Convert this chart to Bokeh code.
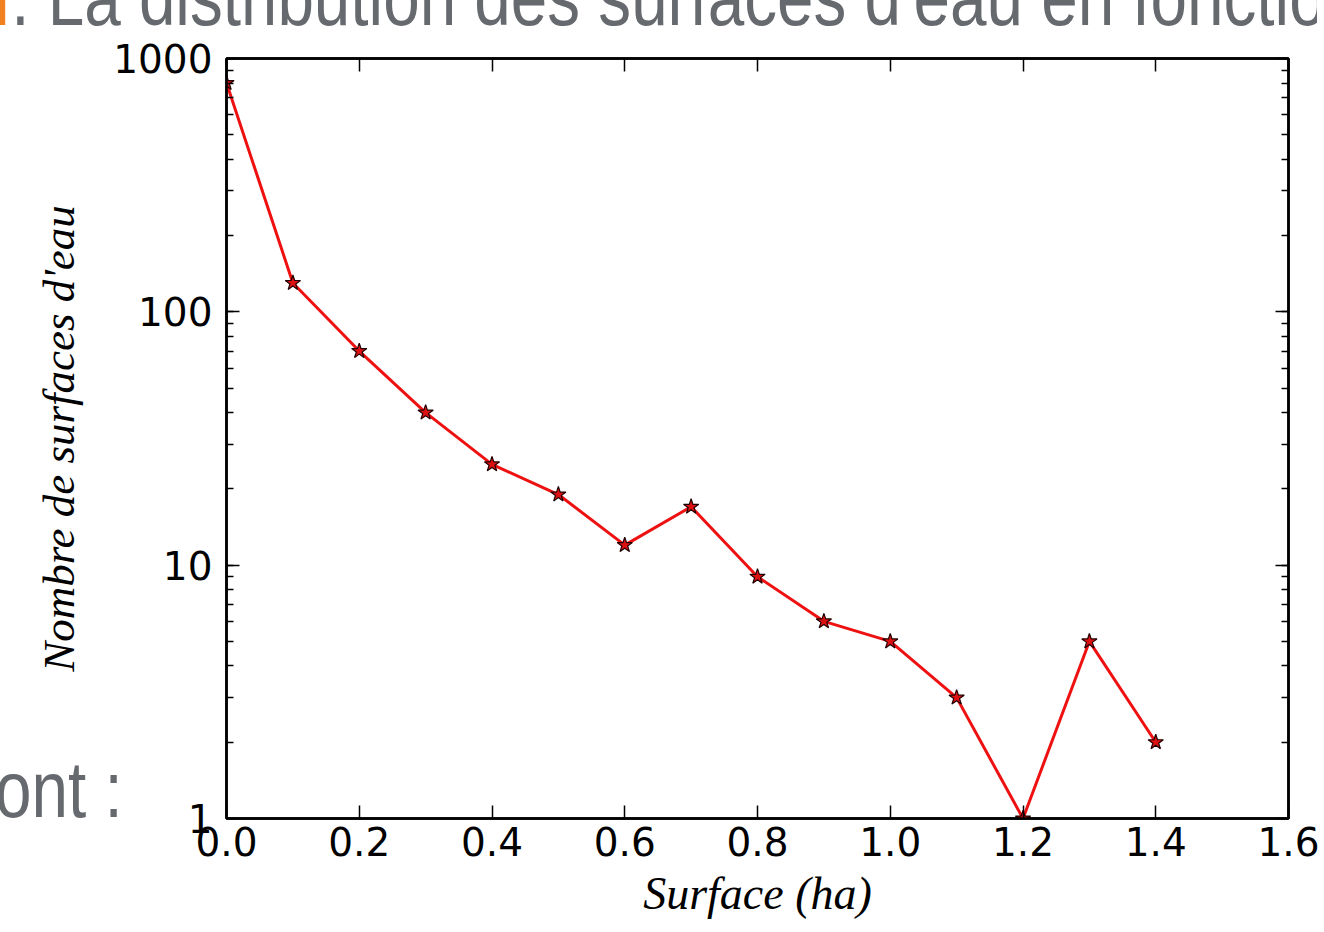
from bokeh.plotting import figure
from bokeh.models import (Range1d, LinearAxis, LogAxis, LogTicker, FixedTicker,
                          PrintfTickFormatter, CustomJSTickFormatter, Div)
from bokeh.layouts import column
from bokeh.embed import file_html
from bokeh.resources import INLINE

# ---- data ----
surface = [0.0, 0.1, 0.2, 0.3, 0.4, 0.5, 0.6, 0.7, 0.8, 0.9, 1.0, 1.1, 1.2, 1.3, 1.4]
nombre = [800, 130, 70, 40, 25, 19, 12, 17, 9, 6, 5, 3, 1, 5, 2]
x_ticks = [0.0, 0.2, 0.4, 0.6, 0.8, 1.0, 1.2, 1.4, 1.6]
x_label = "Surface (ha)"
y_label = "Nombre de surfaces d'eau"
title_prefix = "I"
title_text = ". La distribution des surfaces d'eau en fonction"
side_text = "ont :"

TICK_FONT = "DejaVu Sans"
LABEL_FONT = "Liberation Serif"

p = figure(width=1324, height=932, output_backend="svg", toolbar_location=None,
           x_range=Range1d(0, 1.6), y_range=Range1d(1, 1000), y_axis_type="log",
           min_border_left=226, min_border_right=36, min_border_top=58,
           min_border_bottom=114, x_axis_location=None, y_axis_location=None)
p.background_fill_color = "white"
p.border_fill_color = "white"
p.xgrid.visible = False
p.ygrid.visible = False
p.outline_line_color = "black"
p.outline_line_width = 2.5


def style_axis(ax, show_labels):
    ax.axis_line_width = 2.5
    ax.axis_line_color = "black"
    ax.major_tick_in = 13
    ax.major_tick_out = 0
    ax.minor_tick_in = 7
    ax.minor_tick_out = 0
    ax.major_tick_line_width = 1.5
    ax.minor_tick_line_width = 1.5
    ax.major_tick_line_color = "black"
    ax.minor_tick_line_color = "black"
    ax.major_label_text_font = TICK_FONT
    ax.major_label_text_color = "black"
    if show_labels:
        ax.major_label_text_font_size = "39px"
    else:
        ax.major_label_text_font_size = "1px"
        ax.major_label_text_alpha = 0


xb = LinearAxis(ticker=FixedTicker(ticks=x_ticks, minor_ticks=[]),
                formatter=PrintfTickFormatter(format="%.1f"))
style_axis(xb, True)
xb.major_label_standoff = 8
xb.axis_label = x_label
xb.axis_label_text_font = LABEL_FONT
xb.axis_label_text_font_style = "italic"
xb.axis_label_text_font_size = "46px"
xb.axis_label_text_color = "black"
xb.axis_label_standoff = 9
p.add_layout(xb, "below")

xt = LinearAxis(ticker=FixedTicker(ticks=x_ticks, minor_ticks=[]))
style_axis(xt, False)
p.add_layout(xt, "above")

yl = LogAxis(ticker=LogTicker(num_minor_ticks=10),
             formatter=CustomJSTickFormatter(code="return tick.toFixed(0)"))
style_axis(yl, True)
yl.major_label_standoff = 14
yl.axis_label = y_label
yl.axis_label_text_font = LABEL_FONT
yl.axis_label_text_font_style = "italic"
yl.axis_label_text_font_size = "45px"
yl.axis_label_text_color = "black"
yl.axis_label_standoff = 26
p.add_layout(yl, "left")

yr = LogAxis(ticker=LogTicker(num_minor_ticks=10))
style_axis(yr, False)
p.add_layout(yr, "right")

p.line(surface, nombre, line_color="#ee1111", line_width=3)
p.scatter(surface, nombre, marker="star", size=16, fill_color="#dd1111",
          line_color="#220000", line_width=1.2)

# ---- slide texts around the chart (HTML text overlaid on the page) ----
SLIDE_STYLE = ("font-family:'Liberation Sans',Arial,sans-serif;font-size:80px;"
               "line-height:80px;color:#66696e;white-space:nowrap;margin:0;padding:0;"
               "transform:scaleX(0.82);transform-origin:0 0;")

title_div = Div(
    text=f'<div style="{SLIDE_STYLE}"><span style="color:#f08020">{title_prefix}</span>{title_text}</div>',
    width=1331, height=100,
    styles={"position": "absolute", "left": "-7px", "top": "-42px",
            "overflow": "hidden", "margin": "0", "padding": "0", "z-index": "5"})
side_div = Div(
    text=f'<div style="{SLIDE_STYLE}">{side_text}</div>',
    width=160, height=100,
    styles={"position": "absolute", "left": "-5px", "top": "750px",
            "overflow": "hidden", "margin": "0", "padding": "0", "z-index": "5"})

layout = column(p, title_div, side_div)
open("out.html", "w").write(file_html(layout, INLINE))
